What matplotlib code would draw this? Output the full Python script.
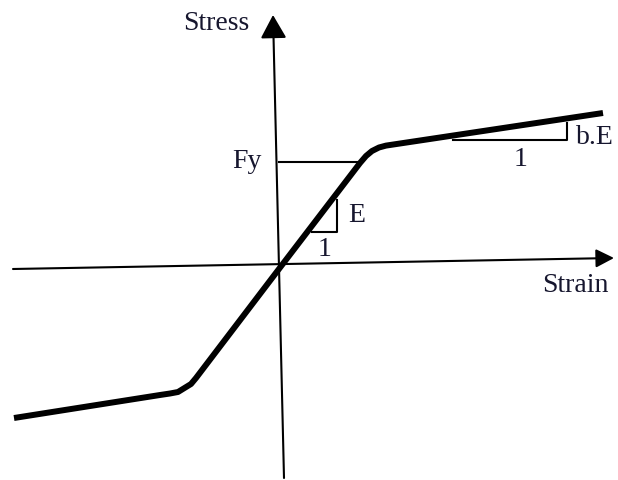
import matplotlib.pyplot as plt

plt.rcParams["font.family"] = ["Liberation Serif", "DejaVu Serif"]

# bilinear stress-strain curve (origin at axes crossing), knees slightly rounded
strain = [-268, -122, -112, -104, -97.5, -91, -86, 0,
          78, 84, 90, 97, 104, 321]
stress = [-153, -130, -128.5, -127, -123, -119, -113, 0,
          102, 109, 114, 117.5, 119.4, 152]

# axis ends (tail -> arrow tip)
x_axis = [(-269, -4), (332, 7)]
y_axis = [(2, -213), (-9, 250)]

# yield level line
fy_x = [-3, 75]
fy_y = [103, 103]

# slope triangles
e_tri_x = [30, 55, 55]
e_tri_y = [33, 33, 65]
be_tri_x = [171, 285, 285]
be_tri_y = [125, 125, 142]

TXT = "#16162e"


def main():
    fig = plt.figure(figsize=(6.18, 4.8), dpi=100)
    ax = fig.add_axes([0, 0, 1, 1])
    ax.set_xlim(-282, 336)
    ax.set_ylim(-215, 265)
    ax.axis("off")

    # axes with arrow heads
    ax.annotate("", xy=x_axis[1], xytext=x_axis[0],
                arrowprops=dict(arrowstyle="-|>,head_length=0.55,head_width=0.28",
                                lw=1.5, color="black", mutation_scale=20,
                                shrinkA=0, shrinkB=0))
    ax.annotate("", xy=y_axis[1], xytext=y_axis[0],
                arrowprops=dict(arrowstyle="-|>,head_length=0.72,head_width=0.4",
                                lw=1.5, color="black", mutation_scale=20,
                                shrinkA=0, shrinkB=0))

    ax.plot(fy_x, fy_y, color="black", lw=1.5)
    ax.plot(e_tri_x, e_tri_y, color="black", lw=1.5)
    ax.plot(be_tri_x, be_tri_y, color="black", lw=1.5)

    ax.plot(strain, stress, color="black", lw=4.3,
            solid_joinstyle="round", solid_capstyle="butt")

    fs = 20
    ax.text(-66, 242, "Stress", fontsize=fs, color=TXT, ha="center", va="center")
    ax.text(293, -21, "Strain", fontsize=fs, color=TXT, ha="center", va="center")
    ax.text(-35, 104, "Fy", fontsize=fs, color=TXT, ha="center", va="center")
    ax.text(66, 50, "E", fontsize=fs, color=TXT, ha="left", va="center")
    ax.text(43, 15, "1", fontsize=fs, color=TXT, ha="center", va="center")
    ax.text(239, 106, "1", fontsize=fs, color=TXT, ha="center", va="center")
    ax.text(294, 128, "b.E", fontsize=fs, color=TXT, ha="left", va="center")

    fig.savefig("out.png", dpi=100, facecolor="white")


if __name__ == "__main__":
    main()
